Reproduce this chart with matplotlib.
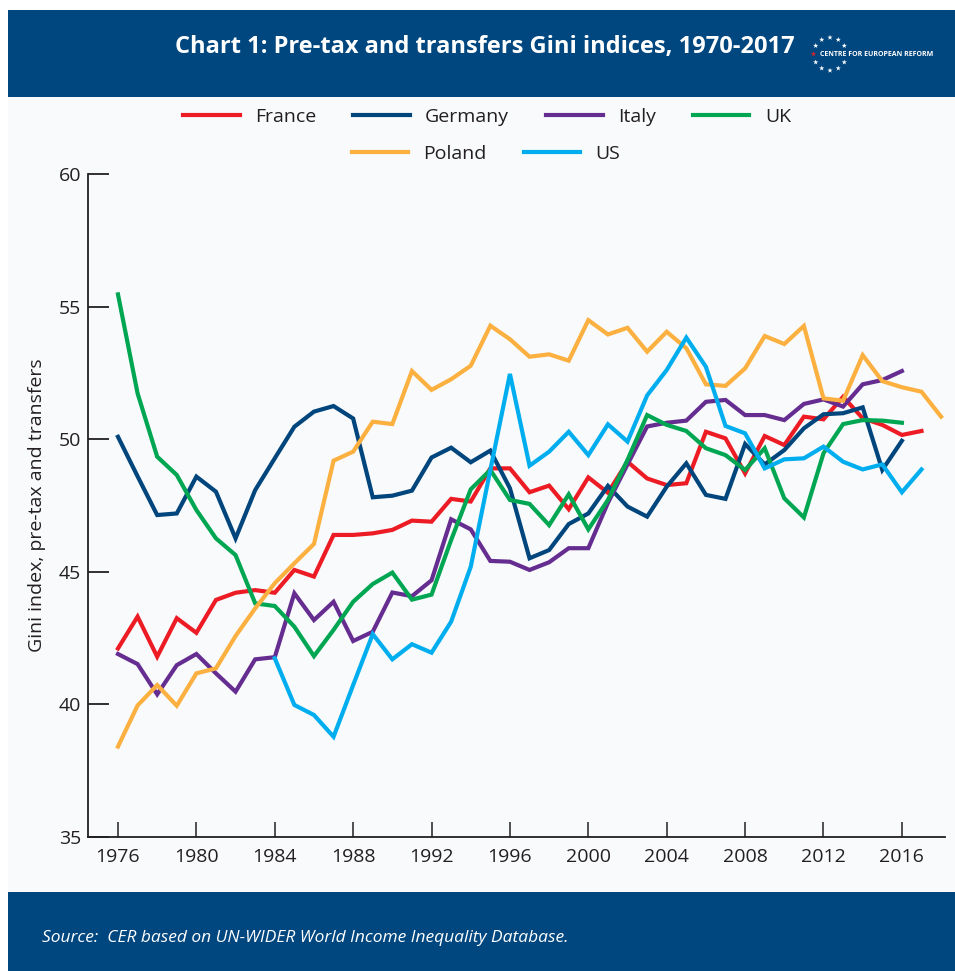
import matplotlib
matplotlib.use('Agg')
import matplotlib.pyplot as plt
from matplotlib import font_manager
from matplotlib.patches import Rectangle
import numpy as np

# Gini index, pre-tax and transfers
years_fr = list(range(1976, 2018))
france = [42.11, 43.31, 41.80, 43.25, 42.70, 43.94, 44.21, 44.31, 44.21, 45.07,
          44.82, 46.39, 46.39, 46.45, 46.58, 46.93, 46.89, 47.75, 47.65, 48.90,
          48.90, 48.00, 48.25, 47.36, 48.56, 47.98, 49.15, 48.52, 48.27, 48.34,
          50.28, 50.03, 48.71, 50.12, 49.78, 50.85, 50.75, 51.60, 50.79, 50.54,
          50.16, 50.31]

years_de = list(range(1976, 2017))
germany = [50.09, 48.60, 47.14, 47.20, 48.59, 48.02, 46.26, 48.08, 49.28, 50.47,
           51.04, 51.25, 50.78, 47.81, 47.87, 48.06, 49.31, 49.68, 49.13, 49.57,
           48.15, 45.51, 45.82, 46.80, 47.20, 48.24, 47.46, 47.08, 48.21, 49.09,
           47.90, 47.75, 49.82, 49.05, 49.59, 50.41, 50.94, 50.98, 51.20, 48.84,
           49.94]

years_it = list(range(1976, 2017))
italy = [41.90, 41.52, 40.38, 41.48, 41.90, 41.17, 40.48, 41.70, 41.78, 44.19,
         43.18, 43.87, 42.39, 42.74, 44.22, 44.08, 44.68, 46.98, 46.60, 45.41,
         45.38, 45.07, 45.36, 45.89, 45.89, 47.60, 49.05, 50.48, 50.62, 50.70,
         51.41, 51.48, 50.91, 50.91, 50.72, 51.33, 51.50, 51.23, 52.07, 52.23,
         52.57]

years_uk = list(range(1976, 2017))
uk = [55.46, 51.73, 49.34, 48.65, 47.33, 46.26, 45.63, 43.81, 43.71, 42.93,
      41.82, 42.81, 43.87, 44.54, 44.97, 43.95, 44.14, 46.20, 48.11, 48.84,
      47.71, 47.56, 46.76, 47.92, 46.60, 47.71, 49.22, 50.91, 50.54, 50.31,
      49.66, 49.40, 48.84, 49.66, 47.77, 47.05, 49.47, 50.57, 50.72, 50.70,
      50.62]

years_pl = list(range(1976, 2019))
poland = [38.41, 39.96, 40.73, 39.95, 41.17, 41.36, 42.58, 43.62, 44.57, 45.32,
          46.05, 49.19, 49.53, 50.66, 50.57, 52.57, 51.86, 52.26, 52.77, 54.28,
          53.77, 53.11, 53.20, 52.96, 54.49, 53.95, 54.20, 53.30, 54.05, 53.43,
          52.07, 52.01, 52.67, 53.89, 53.59, 54.27, 51.54, 51.45, 53.17, 52.19,
          51.96, 51.79, 50.85]

years_us = list(range(1984, 2018))
us = [41.74, 39.98, 39.60, 38.78, 40.73, 42.65, 41.70, 42.27, 41.95, 43.12,
      45.19, 48.84, 52.46, 49.00, 49.53, 50.28, 49.40, 50.56, 49.91, 51.65,
      52.61, 53.83, 52.73, 50.50, 50.22, 48.90, 49.24, 49.28, 49.72, 49.15,
      48.86, 49.05, 48.00, 48.86]

series = [
    ('France', years_fr, france, '#ed1c24'),
    ('Germany', years_de, germany, '#00457c'),
    ('Italy', years_it, italy, '#662d91'),
    ('UK', years_uk, uk, '#00a651'),
    ('Poland', years_pl, poland, '#fbb040'),
    ('US', years_us, us, '#00aeef'),
]

x_ticks = list(range(1976, 2017, 4))
y_ticks = [35, 40, 45, 50, 55, 60]

navy = '#00467f'
ink = '#231f20'
plt.rcParams['font.family'] = ['Open Sans', 'DejaVu Sans']

names = {f.name for f in font_manager.fontManager.ttflist}
if 'Liberation Sans Narrow' in names:
    title_font = ['Liberation Sans Narrow', 'DejaVu Sans']
    title_size = 18.5
else:
    title_font = ['Open Sans', 'DejaVu Sans']
    title_size = 17

W, H = 955, 971
fig = plt.figure(figsize=(W / 100, H / 100), dpi=100, facecolor='white')

# background / frame (pixel coordinates)
bg = fig.add_axes([0, 0, 1, 1], zorder=0)
bg.set_xlim(0, W)
bg.set_ylim(H, 0)
bg.axis('off')
bg.add_patch(Rectangle((8, 10), W - 8, H - 10, color='#f8fafc', lw=0))
bg.add_patch(Rectangle((8, 10), W - 8, 87, color=navy, lw=0))
bg.add_patch(Rectangle((8, 892), W - 8, H - 892, color=navy, lw=0))

bg.text(485, 47, 'Chart 1: Pre-tax and transfers Gini indices, 1970-2017',
        ha='center', va='center', color='white', fontsize=title_size,
        fontweight='bold', family=title_font)

# CER logo: ring of stars and name
ang = np.deg2rad([90, 60, 120, 30, 150, 180, 210, 330, 240, 270, 300])
sx = 830 + 16.5 * np.cos(ang)
sy = 54 - 16.5 * np.sin(ang)
cols = ['#e0202a' if a == np.deg2rad(180) else 'white' for a in ang]
bg.scatter(sx, sy, s=16, marker='*', c=cols, linewidths=0)
bg.text(820, 54.5, 'CENTRE FOR EUROPEAN REFORM', ha='left', va='center',
        color='white', fontsize=5, fontweight='bold')

bg.text(42, 938, 'Source:  CER based on UN-WIDER World Income Inequality Database.',
        ha='left', va='center', color='white', fontsize=12.5, style='italic')

# main chart
ax = fig.add_axes([88 / W, 1 - 837 / H, (945 - 88) / W, (837 - 174) / H], zorder=1)
ax.patch.set_visible(False)
lines = []
for name, xs, ys, c in series:
    ln, = ax.plot(xs, ys, color=c, lw=3.0, label=name, solid_joinstyle='miter')
    lines.append(ln)

ax.set_xlim(1974.47, 2018.2)
ax.set_ylim(35, 60)
ax.set_xticks(x_ticks)
ax.set_yticks(y_ticks)
for s in ['top', 'right']:
    ax.spines[s].set_visible(False)
for s in ['left', 'bottom']:
    ax.spines[s].set_color(ink)
    ax.spines[s].set_linewidth(1.3)
ax.tick_params(axis='y', direction='in', length=15, width=1.3, color=ink,
               labelsize=14, labelcolor=ink, pad=5)
ax.tick_params(axis='x', direction='in', length=11, width=1.1, color=ink,
               labelsize=14, labelcolor=ink, pad=8)
bg.text(37, 505, 'Gini index, pre-tax and transfers', rotation=90,
        ha='center', va='center', fontsize=14, color=ink)

leg_kw = dict(frameon=False, fontsize=14, handlelength=2.9, handletextpad=0.8,
              columnspacing=1.9, loc='center', labelcolor=ink)
leg1 = fig.legend(lines[:4], [l.get_label() for l in lines[:4]], ncol=4,
                  bbox_to_anchor=(487 / W, 1 - 117 / H), **leg_kw)
leg2 = fig.legend(lines[4:], [l.get_label() for l in lines[4:]], ncol=2,
                  bbox_to_anchor=(486 / W, 1 - 154 / H), **leg_kw)

fig.savefig('out.png', dpi=100, facecolor=fig.get_facecolor())
